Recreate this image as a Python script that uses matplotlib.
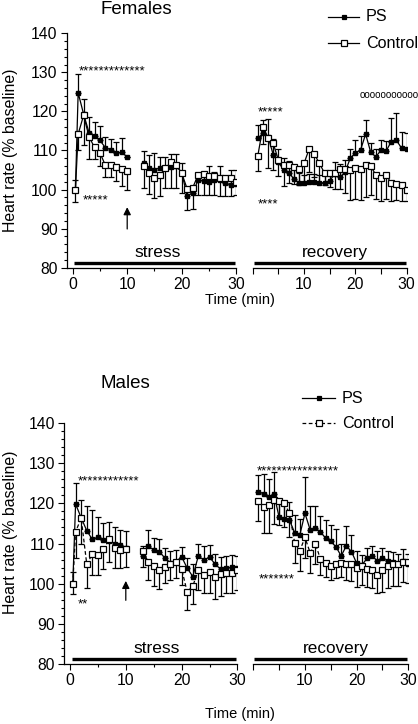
import matplotlib
matplotlib.use("Agg")
import matplotlib.pyplot as plt
import numpy as np
from matplotlib.lines import Line2D
from matplotlib.ticker import MultipleLocator, FixedLocator

plt.rcParams["font.family"] = ["Liberation Sans", "DejaVu Sans"]
plt.rcParams["font.size"] = 10

W, H = 418, 724

# time points (min)
t_early = [0.5, 1, 2, 3, 4, 5, 6, 7, 8, 9, 10]
t_late = list(range(13, 31))
t_rec = list(range(1, 31))

# ---- Females ----
f_ps_early = [100.0, 124.8, 119.3, 114.6, 113.6, 112.6, 110.7, 110.2, 109.3, 109.6, 108.3]
f_ps_early_sem = [2.5, 4.7, 4.0, 4.0, 3.8, 3.6, 2.8, 2.7, 3.0, 3.5, 0.0]
f_ct_early = [100.0, 114.2, 119.0, 113.5, 110.8, 109.4, 106.2, 106.3, 105.9, 105.2, 104.8]
f_ct_early_sem = [3.3, 4.2, 7.5, 5.7, 3.0, 3.4, 3.1, 3.2, 3.6, 4.3, 5.0]

f_ps_late = [106.7, 105.4, 105.0, 105.6, 105.6, 105.9, 106.1, 104.3, 98.4, 99.1,
             102.4, 102.3, 102.0, 102.5, 102.5, 101.6, 101.2, 101.4]
f_ps_late_sem = [3.2, 3.5, 4.3, 2.8, 2.7, 3.1, 2.9, 2.5, 1.5, 1.5,
                 1.5, 1.5, 4.0, 2.0, 3.5, 2.0, 3.8, 3.6]
f_ct_late = [106.0, 104.3, 102.9, 103.8, 105.4, 107.0, 106.4, 104.2, 100.2, 100.4,
             103.7, 104.1, 103.5, 103.5, 102.9, 102.9, 102.9, 102.0]
f_ct_late_sem = [5.7, 5.5, 5.0, 5.5, 5.0, 6.5, 6.0, 5.0, 5.5, 5.5,
                 5.0, 5.5, 5.0, 5.0, 4.5, 4.5, 4.5, 3.5]

f_ps_rec = [113.1, 114.4, 113.5, 108.9, 107.0, 105.1, 104.3, 102.8, 101.7, 101.8,
            102.0, 102.0, 101.8, 101.7, 102.3, 104.0, 103.1, 104.5, 108.0, 109.4,
            110.1, 114.2, 109.5, 108.4, 110.1, 109.9, 112.3, 112.6, 110.6, 110.4]
f_ps_rec_sem = [3.5, 3.5, 4.5, 4.0, 3.5, 3.0, 3.0, 2.5, 2.5, 2.0,
                2.0, 2.0, 2.0, 2.0, 2.0, 3.0, 3.5, 3.0, 2.5, 3.3,
                3.5, 3.6, 2.5, 2.0, 2.6, 2.5, 6.0, 7.0, 4.2, 4.0]
f_ct_rec = [108.7, 116.1, 113.1, 111.8, 107.6, 106.3, 106.2, 105.9, 105.2, 106.7,
            110.4, 109.1, 106.7, 104.2, 104.2, 104.2, 105.2, 105.2, 104.9, 105.6,
            105.3, 106.2, 106.0, 103.7, 103.0, 103.7, 101.6, 101.4, 101.2, 100.0]
f_ct_rec_sem = [3.9, 4.5, 7.6, 6.8, 4.0, 5.5, 4.5, 4.5, 4.0, 5.0,
                6.0, 6.0, 5.0, 3.0, 3.5, 4.0, 5.0, 6.0, 7.5, 8.0,
                8.0, 8.0, 7.5, 6.0, 6.0, 6.0, 4.5, 4.0, 4.0, 3.0]

# ---- Males ----
m_ps_early = [100.0, 119.8, 116.4, 113.2, 111.0, 111.5, 110.9, 110.5, 110.0, 109.6, 109.0]
m_ps_early_sem = [3.0, 5.3, 4.5, 6.0, 7.3, 5.2, 4.3, 4.8, 4.0, 3.8, 4.0]
m_ct_early = [100.0, 112.9, 116.3, 104.9, 107.3, 107.1, 108.6, 111.0, 108.8, 108.3, 108.6]
m_ct_early_sem = [2.5, 6.5, 6.5, 6.0, 5.0, 5.0, 5.0, 5.5, 5.0, 4.5, 4.5]

m_ps_late = [106.9, 109.4, 108.4, 108.0, 106.4, 105.2, 105.5, 106.7, 103.9, 101.8,
             106.9, 105.9, 106.6, 104.9, 103.6, 103.8, 104.2, 104.0]
m_ps_late_sem = [2.5, 4.0, 3.0, 3.0, 2.5, 3.0, 3.0, 2.5, 2.5, 3.0,
                 3.0, 3.5, 3.0, 2.5, 3.0, 3.0, 3.0, 3.0]
m_ct_late = [108.2, 105.5, 104.4, 103.3, 104.1, 104.9, 105.4, 103.7, 98.0, 99.4,
             103.4, 102.3, 102.8, 101.8, 102.4, 102.6, 102.6, 103.4]
m_ct_late_sem = [4.0, 4.5, 5.0, 4.5, 4.0, 4.0, 4.0, 4.0, 4.5, 4.5,
                 5.0, 4.5, 5.0, 5.5, 5.5, 5.0, 5.0, 5.0]

m_ps_rec = [122.9, 122.3, 121.5, 122.3, 116.5, 116.0, 115.8, 112.7, 112.1, 117.5,
            113.4, 113.8, 112.9, 111.3, 110.5, 109.2, 106.9, 109.4, 108.0, 105.1,
            104.6, 106.3, 106.9, 105.7, 106.3, 105.7, 105.5, 104.9, 105.7, 105.0]
m_ps_rec_sem = [4.0, 5.0, 4.5, 5.5, 4.0, 4.0, 4.5, 4.5, 4.0, 9.0,
                6.0, 5.5, 4.0, 4.5, 4.0, 4.5, 3.0, 5.0, 4.0, 3.0,
                2.5, 2.5, 2.5, 2.5, 2.5, 2.5, 2.5, 2.5, 3.0, 2.5]
m_ct_rec = [120.6, 119.1, 119.6, 120.8, 120.6, 120.0, 117.5, 110.2, 108.2, 111.5,
            107.7, 110.0, 106.1, 105.1, 104.5, 104.9, 105.2, 104.9, 104.8, 103.8,
            104.3, 103.6, 103.4, 102.2, 103.4, 104.4, 104.9, 104.9, 105.5, 105.3]
m_ct_rec_sem = [5.0, 6.5, 7.0, 6.0, 6.0, 6.0, 6.0, 5.0, 5.0, 5.0,
                5.0, 5.0, 4.0, 3.5, 3.5, 3.5, 3.5, 4.0, 4.0, 4.5,
                4.5, 4.5, 4.5, 4.5, 5.5, 5.5, 5.5, 5.5, 5.0, 5.0]

STRESS_SPAN = (0.3, 29.8)
RECOVERY_SPAN = (0.2, 29.8)
BAR_Y = 81.3


def fx(px):
    return px / W


def fy(py):
    return 1 - py / H


def series(ax, t, ps, ps_sem, ct, ct_sem, ctrl_ls):
    z = np.zeros(len(ps))
    ax.errorbar(t, ps, yerr=[z, ps_sem], fmt="none", ecolor="black",
                elinewidth=0.9, capsize=2.2, capthick=0.9, zorder=2)
    ax.errorbar(t, ct, yerr=[ct_sem, z], fmt="none", ecolor="black",
                elinewidth=0.9, capsize=2.2, capthick=0.9, zorder=2)
    ax.plot(t, ps, color="black", lw=0.9, marker="s", ms=3.0,
            mfc="black", mec="black", zorder=3)
    ax.plot(t, ct, color="black", lw=0.9, ls=ctrl_ls, marker="s", ms=4.0,
            mfc="white", mec="black", mew=0.9, zorder=4)


def style(ax, xlim, rec=False):
    ax.set_ylim(80, 140)
    ax.set_xlim(*xlim)
    for s in ("top", "right"):
        ax.spines[s].set_visible(False)
    ax.tick_params(direction="out", length=4, width=0.8, labelsize=11.3, pad=2.5)
    ax.tick_params(which="minor", direction="out", length=2.5, width=0.8)
    ax.xaxis.set_major_locator(FixedLocator([0, 10, 20, 30]))
    ax.xaxis.set_minor_locator(FixedLocator([5, 15, 25]))
    if rec:
        ax.spines["left"].set_visible(False)
        ax.set_yticks([])
        ax.set_xticklabels(["", "10", "20", "30"])
        ax.tick_params(which="both", length=4)
    else:
        ax.yaxis.set_major_locator(MultipleLocator(10))
        ax.yaxis.set_minor_locator(MultipleLocator(2))
    for sp in ax.spines.values():
        sp.set_linewidth(0.9)
    ax.patch.set_alpha(0)


def stars(ax, x, y, n, ch="*", size=9.5, dy=2.0):
    ax.text(x, y - dy, ch * n, fontsize=size, ha="left", va="baseline")


def legend(x0, x1, xt, y_ps, y_ct, ctrl_ls):
    fig = plt.gcf()
    for y, ls, mfc, ms, lab in ((y_ps, "-", "black", 3.0, "PS"),
                                (y_ct, ctrl_ls, "white", 4.0, "Control")):
        fig.add_artist(Line2D([fx(x0), fx(x1)], [fy(y), fy(y)], transform=fig.transFigure,
                              color="black", lw=0.9, ls=ls))
        fig.add_artist(Line2D([fx((x0 + x1) / 2)], [fy(y)], transform=fig.transFigure,
                              marker="s", ms=ms, mfc=mfc, mec="black", mew=0.9, ls="none"))
        fig.text(fx(xt), fy(y), lab, fontsize=11.6, va="center", ha="left")


def panel(top, bottom, yaxis, x0, x30, r0, r30, data, ctrl_ls, notes):
    ppm = (x30 - x0) / 30.0
    xl = -(x0 - yaxis) / ppm
    h = (bottom - top) / H
    ax1 = fig.add_axes([fx(yaxis), fy(bottom), (x30 - yaxis) / W, h])
    ax2 = fig.add_axes([fx(r0), fy(bottom), (r30 - r0) / W, h])
    (pe, pes, ce, ces, pl, pls, cl, cls, pr, prs, cr, crs) = data
    series(ax1, t_early, pe, pes, ce, ces, ctrl_ls)
    series(ax1, t_late, pl, pls, cl, cls, ctrl_ls)
    series(ax2, t_rec, pr, prs, cr, crs, ctrl_ls)
    style(ax1, (xl, 30))
    style(ax2, (0, 30), rec=True)
    ax1.plot(STRESS_SPAN, [BAR_Y, BAR_Y], color="black", lw=2.4, solid_capstyle="butt")
    ax2.plot(RECOVERY_SPAN, [BAR_Y, BAR_Y], color="black", lw=2.4, solid_capstyle="butt")
    ax1.text(15.5, 82.0, "stress", fontsize=12.5, ha="center", va="bottom")
    ax2.text(16.0, 82.0, "recovery", fontsize=12.3, ha="center", va="bottom")
    arrow_lo, arrow_hi = notes["arrow"]
    ax1.annotate("", xy=(10, arrow_hi), xytext=(10, arrow_lo),
                 arrowprops=dict(arrowstyle="-|>", color="black", lw=0.9,
                                 mutation_scale=11))
    for (x, y, n) in notes["s1"]:
        stars(ax1, x, y, n, dy=notes["dy"])
    for (x, y, n) in notes["s2"]:
        stars(ax2, x, y, n, dy=notes["dy"])
    for (x, y, n) in notes.get("o2", []):
        ax2.text(x, y - 0.7, "o" * n, fontsize=7, ha="left", va="baseline",
                 clip_on=False)
    return ax1, ax2


fig = plt.figure(figsize=(W / 100, H / 100), dpi=100)

female_data = (f_ps_early, f_ps_early_sem, f_ct_early, f_ct_early_sem,
               f_ps_late, f_ps_late_sem, f_ct_late, f_ct_late_sem,
               f_ps_rec, f_ps_rec_sem, f_ct_rec, f_ct_rec_sem)
male_data = (m_ps_early, m_ps_early_sem, m_ct_early, m_ct_early_sem,
             m_ps_late, m_ps_late_sem, m_ct_late, m_ct_late_sem,
             m_ps_rec, m_ps_rec_sem, m_ct_rec, m_ct_rec_sem)

panel(33.3, 267.7, 66.7, 72.7, 236.2, 252.7, 406.7, female_data, "-",
      {"arrow": (89.2, 96.2), "dy": 2.0,
       "s1": [(1.15, 131.4, 13), (1.8, 98.4, 5)],
       "s2": [(0.9, 121.1, 5), (0.9, 97.3, 4)],
       "o2": [(20.8, 124.2, 11)]})
panel(422.7, 664.3, 64.3, 70.0, 237.4, 253.3, 408.3, male_data, (0, (3, 2)),
      {"arrow": (95.2, 101.4), "dy": 1.95,
       "s1": [(1.4, 126.6, 12), (1.4, 96.0, 2)],
       "s2": [(0.7, 129.2, 16), (1.0, 102.2, 7)]})

legend(328, 359, 366, 16.7, 43.3, "-")
legend(302, 335, 342, 398.3, 423.3, (0, (3, 2)))

fig.text(fx(136), fy(9), "Females", fontsize=13.5, ha="center", va="center")
fig.text(fx(125), fy(383), "Males", fontsize=13.5, ha="center", va="center")
fig.text(fx(240), fy(300), "Time (min)", fontsize=10.5, ha="center", va="center")
fig.text(fx(240), fy(714), "Time (min)", fontsize=10.5, ha="center", va="center")
fig.text(fx(11), fy(150), "Heart rate (% baseline)", fontsize=11.4, rotation=90,
         ha="center", va="center")
fig.text(fx(11), fy(532), "Heart rate (% baseline)", fontsize=11.4, rotation=90,
         ha="center", va="center")

fig.savefig("out.png", dpi=100)
